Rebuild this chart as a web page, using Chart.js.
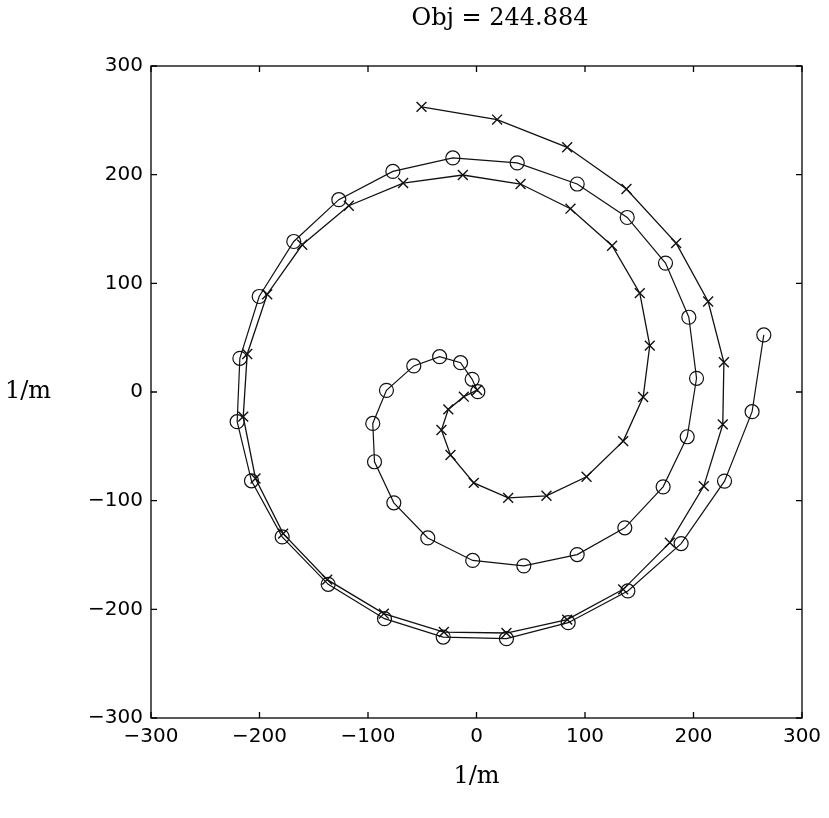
<!DOCTYPE html>
<html>
<head>
<meta charset="utf-8">
<script src="https://cdn.jsdelivr.net/npm/chart.js@4/dist/chart.umd.min.js"></script>
<style>
  html, body { margin: 0; padding: 0; background: #fff; }
</style>
</head>
<body>
<canvas id="spiral" width="829" height="818"></canvas>
<script>
// circle-marked path (starts outside right, winds in to the centre)
var circleX = [264.8, 254, 228.6, 188.6, 139.5, 84.5, 27.6, -30.7, -84.8, -136.7, -179.1, -207.4, -220.6, -218.1,
  -200.3, -168.4, -126.9, -77.1, -21.8, 37.5, 92.8, 138.9, 174.2, 195.7, 202.8, 194.2, 172, 136.7, 92.8, 43.6,
  -3.5, -44.9, -76.2, -94, -95.6, -83, -57.8, -34, -14.7, -4, 1.2];
var circleY = [52.5, -18.1, -82, -139.5, -183.1, -212.3, -227, -225.5, -208.6, -177, -133.3, -81.7, -27.3, 31,
  87.9, 138.5, 177, 203, 215.4, 210.8, 191.4, 160.6, 118.6, 68.8, 12.6, -41.2, -87.3, -125, -149.6, -160,
  -155, -134.3, -102, -64.2, -28.9, 1.5, 24, 32.5, 27, 11.7, 0.3];

// x-marked path (starts at the top, winds in to the centre)
var crossX = [-50.7, 19, 83.6, 138.2, 184, 213.5, 228, 227, 209.5, 178.2, 135.2, 83.6, 27.6, -30.1, -85.4,
  -137.6, -178.2, -203.7, -215, -211.3, -192.9, -160.6, -117.7, -67.6, -12.6, 40.6, 86.6, 125, 150.5, 159.7,
  153.6, 135.2, 101.4, 64.5, 29.2, -2.5, -24, -32.3, -26, -11.7, 0.6];
var crossY = [262.4, 250.7, 225.2, 186.8, 137, 83.3, 27.4, -29.8, -86.6, -138.6, -181.6, -209.5, -221.8, -220.9, -204,
  -172.7, -130.3, -79.6, -22.7, 35, 90, 135.5, 171.4, 192.3, 199.7, 191.4, 168.7, 134.6, 91, 42.7,
  -4.6, -45.2, -78, -95.5, -97.4, -83.6, -58, -35, -16, -4.3, 1.8];

var tickValues = [-300, -200, -100, 0, 100, 200, 300];
var titleText = 'Obj = 244.884';
var axisLabel = '1/m';

function toPoints(xs, ys) {
  return xs.map(function(x, i) { return { x: x, y: ys[i] }; });
}

var tickFont = { family: 'DejaVu Sans', size: 20 };

// box, inward ticks on all four sides, and the TeX-style labels
var framePlugin = {
  id: 'frame',
  afterDraw: function(chart) {
    var ctx = chart.ctx;
    var a = chart.chartArea;
    var sx = chart.scales.x, sy = chart.scales.y;
    var len = 6;
    ctx.save();
    ctx.strokeStyle = '#000';
    ctx.lineWidth = 1.3;
    ctx.strokeRect(a.left, a.top, a.right - a.left, a.bottom - a.top);
    ctx.beginPath();
    tickValues.forEach(function(v) {
      var px = sx.getPixelForValue(v);
      ctx.moveTo(px, a.bottom); ctx.lineTo(px, a.bottom - len);
      ctx.moveTo(px, a.top); ctx.lineTo(px, a.top + len);
      var py = sy.getPixelForValue(v);
      ctx.moveTo(a.left, py); ctx.lineTo(a.left + len, py);
      ctx.moveTo(a.right, py); ctx.lineTo(a.right - len, py);
    });
    ctx.stroke();

    ctx.fillStyle = '#000';
    ctx.font = '24px "DejaVu Serif"';
    ctx.textAlign = 'center';
    ctx.textBaseline = 'middle';
    ctx.fillText(titleText, 500, 19);
    ctx.fillText(axisLabel, (a.left + a.right) / 2, 777);
    ctx.textAlign = 'left';
    ctx.fillText(axisLabel, 5, (a.top + a.bottom) / 2);
    ctx.restore();
  }
};

var ctx = document.getElementById('spiral').getContext('2d');
var chart = new Chart(ctx, {
  type: 'scatter',
  data: {
    datasets: [{
      label: 'circles',
      data: toPoints(circleX, circleY),
      showLine: true,
      borderColor: '#111',
      borderWidth: 1.2,
      pointStyle: 'circle',
      pointRadius: 7,
      pointBorderWidth: 1.2,
      pointBackgroundColor: 'rgba(0,0,0,0)',
      pointBorderColor: '#111'
    }, {
      label: 'crosses',
      data: toPoints(crossX, crossY),
      showLine: true,
      borderColor: '#111',
      borderWidth: 1.3,
      pointStyle: 'crossRot',
      pointRadius: 7,
      pointBorderWidth: 1.4,
      pointBorderColor: '#111'
    }]
  },
  options: {
    responsive: false,
    animation: false,
    layout: { padding: { left: 0, top: 66, right: 27, bottom: 0 } },
    plugins: {
      legend: { display: false },
      tooltip: { enabled: false }
    },
    scales: {
      x: {
        type: 'linear',
        min: -300, max: 300,
        grid: { display: false, drawTicks: false },
        border: { display: false },
        ticks: {
          stepSize: 100,
          padding: 7,
          color: '#000',
          font: tickFont,
          maxRotation: 0,
          callback: function(v) { return v < 0 ? '\u2212' + Math.abs(v) : String(v); }
        },
        afterFit: function(s) { s.height = 100; }
      },
      y: {
        type: 'linear',
        min: -300, max: 300,
        grid: { display: false, drawTicks: false },
        border: { display: false },
        ticks: {
          stepSize: 100,
          padding: 8,
          color: '#000',
          font: tickFont,
          callback: function(v) { return v < 0 ? '\u2212' + Math.abs(v) : String(v); }
        },
        afterFit: function(s) { s.width = 151; }
      }
    }
  },
  plugins: [framePlugin]
});
</script>
</body>
</html>
